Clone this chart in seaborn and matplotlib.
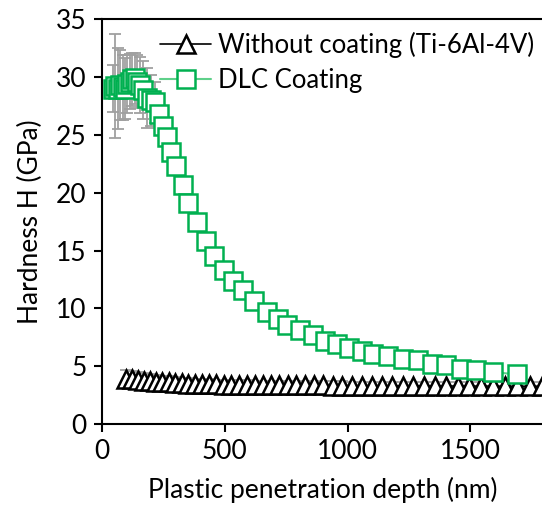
import numpy as np
import pandas as pd
import matplotlib
matplotlib.use("Agg")
import matplotlib.pyplot as plt
import seaborn as sns

# --- data ---
ti_depth = [100, 124, 148, 172, 197, 222, 247, 273, 299, 326, 353, 381, 409, 438,
            467, 497, 527, 558, 590, 622, 655, 688, 722, 757, 792, 828, 865, 902,
            940, 979, 1018, 1058, 1099, 1140, 1182, 1225, 1268, 1312, 1357, 1402,
            1448, 1495, 1543, 1591, 1640, 1690, 1741, 1793, 1846]
ti_hard = [3.90, 3.86, 3.82, 3.77, 3.72, 3.68, 3.64, 3.60, 3.57, 3.54, 3.51, 3.49,
           3.47, 3.45, 3.43, 3.42, 3.41, 3.40, 3.39, 3.38, 3.38, 3.37, 3.36, 3.36,
           3.35, 3.35, 3.34, 3.34, 3.33, 3.33, 3.32, 3.32, 3.32, 3.31, 3.31, 3.31,
           3.30, 3.30, 3.30, 3.30, 3.29, 3.29, 3.29, 3.29, 3.28, 3.28, 3.28, 3.28, 3.28]
ti_err = [0.75, 0.72, 0.68, 0.65, 0.62, 0.58, 0.55, 0.52, 0.50, 0.48, 0.46, 0.45,
          0.44, 0.43, 0.42, 0.41, 0.40, 0.40, 0.39, 0.39, 0.38, 0.38, 0.38, 0.37,
          0.37, 0.37, 0.36, 0.36, 0.36, 0.36, 0.35, 0.35, 0.35, 0.35, 0.35, 0.35,
          0.35, 0.35, 0.35, 0.35, 0.35, 0.35, 0.35, 0.35, 0.35, 0.35, 0.35, 0.35, 0.35]

dlc_depth = [45, 55, 65, 75, 85, 95, 105, 115, 125, 135, 145, 155, 167, 184,
             200, 217, 233, 249, 266, 282, 302, 331, 351, 388, 424, 457, 498, 534,
             575, 620, 673, 717, 754, 807, 860, 909, 957, 1006, 1059, 1103, 1164,
             1225, 1286, 1343, 1400, 1461, 1522, 1591, 1689]
dlc_hard = [29.0, 29.2, 29.0, 29.3, 29.1, 29.0, 29.4, 29.6, 29.8, 29.9, 29.6, 29.3,
            28.9, 28.2, 28.0, 27.8, 26.8, 25.8, 24.8, 23.5, 22.3, 20.7, 19.1, 17.5,
            15.8, 14.5, 13.3, 12.4, 11.6, 10.6, 9.7, 9.1, 8.6, 8.1, 7.7, 7.2, 6.9,
            6.6, 6.3, 6.1, 5.9, 5.6, 5.5, 5.2, 5.1, 4.8, 4.7, 4.5, 4.3]
dlc_err = [2.0, 4.5, 3.5, 3.0, 2.8, 2.6, 2.5, 2.4, 2.3, 2.2, 2.3, 2.4, 2.5, 2.6,
           2.2, 1.8, 1.2, 0.8, 0.5, 0.4, 0.3, 0.3, 0.3, 0.3, 0.3, 0.3, 0.2, 0.2,
           0.2, 0.2, 0.2, 0.2, 0.2, 0.2, 0.2, 0.2, 0.2, 0.2, 0.2, 0.2, 0.2, 0.2,
           0.2, 0.2, 0.2, 0.2, 0.2, 0.2, 0.2]

ti = pd.DataFrame({"depth": ti_depth, "H": ti_hard, "err": ti_err})
dlc = pd.DataFrame({"depth": dlc_depth, "H": dlc_hard, "err": dlc_err})

sns.set_style("ticks")
plt.rcParams["font.family"] = ["Lato", "DejaVu Sans"]
plt.rcParams["text.color"] = "black"
plt.rcParams["axes.labelcolor"] = "black"
plt.rcParams["xtick.color"] = "black"
plt.rcParams["ytick.color"] = "black"

fig = plt.figure(figsize=(5.42, 5.16), dpi=100)
ax = fig.add_axes([0.1876, 0.178, 0.8164, 0.785])

green = "#00b050"
grey = "#a0a0a0"
fs = 19

# error bars first, behind the markers
ax.errorbar(ti["depth"], ti["H"], yerr=ti["err"], fmt="none", ecolor=grey,
            elinewidth=1.3, capsize=4, capthick=1.3, zorder=1)
ax.errorbar(dlc["depth"], dlc["H"], yerr=dlc["err"], fmt="none", ecolor=grey,
            elinewidth=1.3, capsize=4, capthick=1.3, zorder=1)

sns.lineplot(data=ti, x="depth", y="H", ax=ax, color="black", lw=1.2,
             marker="^", markersize=13, markerfacecolor="white",
             markeredgecolor="black", markeredgewidth=1.8,
             label="Without coating (Ti-6Al-4V)", zorder=3)
sns.lineplot(data=dlc, x="depth", y="H", ax=ax, color="#5fd08a", lw=1.5,
             marker="s", markersize=12.5, markerfacecolor="white",
             markeredgecolor=green, markeredgewidth=1.8,
             label="DLC Coating", zorder=4)

ax.set_xlim(0, 1800)
ax.set_ylim(0, 35)
ax.set_xticks([0, 500, 1000, 1500])
ax.set_yticks(range(0, 36, 5))
ax.set_xlabel("Plastic penetration depth (nm)", fontsize=fs, labelpad=9)
ax.set_ylabel("Hardness H (GPa)", fontsize=fs, labelpad=9)
ax.tick_params(labelsize=fs, width=1.5, length=6, pad=5, color="black",
               direction="out")
for side in ["left", "bottom", "top"]:
    ax.spines[side].set_linewidth(1.5)
    ax.spines[side].set_color("black")
ax.spines["right"].set_visible(False)

leg = ax.legend(loc="upper left", bbox_to_anchor=(0.103, 1.0), frameon=False,
                fontsize=18.5, handlelength=2.0, handletextpad=0.25,
                labelspacing=0.38, borderpad=0.4, borderaxespad=0.1)

fig.savefig("out.png", dpi=100)
